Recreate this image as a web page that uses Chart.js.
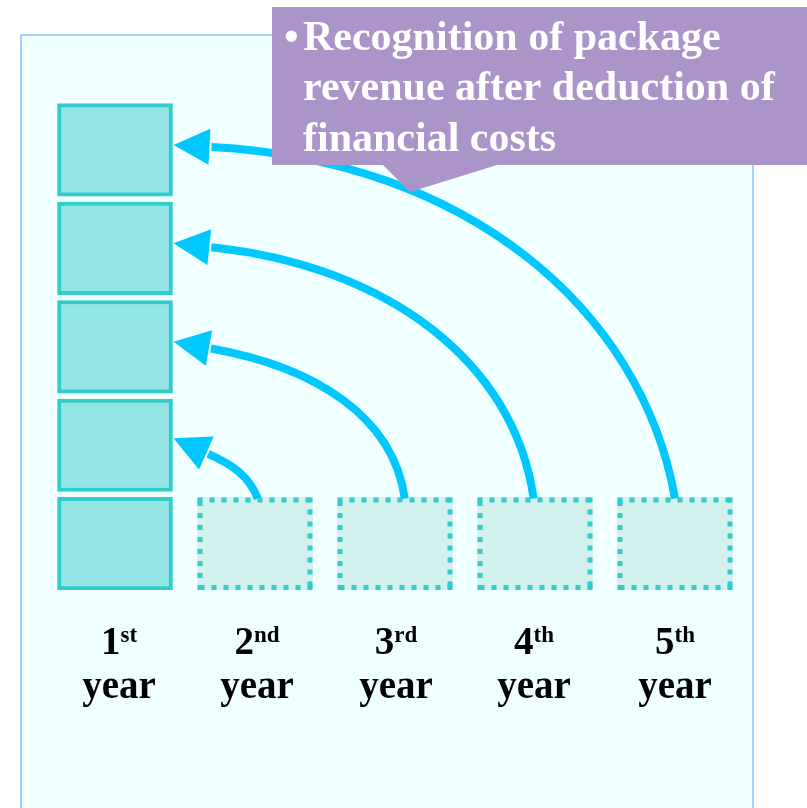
<!DOCTYPE html>
<html><head><meta charset="utf-8">
<script src="https://cdn.jsdelivr.net/npm/chart.js@4.4.1/dist/chart.umd.min.js"></script>
<style>html,body{margin:0;padding:0;background:#fff;}#wrap{width:807px;height:808px;}</style>
</head><body><div id="wrap"><canvas id="c" width="807" height="808"></canvas></div>
<script>
// ---- data ----
const yearNumbers = ['1', '2', '3', '4', '5'];
const yearSuffixes = ['st', 'nd', 'rd', 'th', 'th'];
const yearWord = 'year';
const recognizedYear = [0, 0, 0, 0, 0];      // all blocks recognised in 1st year
const recognizedLevels = [0, 1, 2, 3, 4];    // stacked block levels
const deferredYears = [1, 2, 3, 4];          // original years of later revenue
const deferredLevels = [0, 0, 0, 0];
const blockSize = 0.94;
const arrowStartX = [1.02, 2.07, 2.99, 4.0]; // where each arrow leaves its year block
const arrowTargetLevel = [1.54, 2.52, 3.52, 4.52];
const calloutLines = ['Recognition of package', 'revenue after deduction of', 'financial costs'];

const SERIF = '"Liberation Serif", "Times New Roman", serif';

const backgroundPlugin = {
  id: 'panel',
  beforeDraw(chart) {
    const ctx = chart.ctx;
    ctx.save();
    ctx.fillStyle = '#ffffff';
    ctx.fillRect(0, 0, chart.width, chart.height);
    ctx.fillStyle = '#f0ffff';
    ctx.fillRect(21, 35, 732, 780);
    ctx.strokeStyle = '#a6d0fb';
    ctx.lineWidth = 2;
    ctx.strokeRect(21, 35, 732, 790);
    ctx.restore();
  }
};

const dottedPlugin = {
  id: 'dotted',
  afterDatasetsDraw(chart) {
    const ctx = chart.ctx;
    const meta = chart.getDatasetMeta(1);
    ctx.save();
    ctx.strokeStyle = '#33cccc';
    ctx.lineWidth = 5;
    ctx.setLineDash([5, 7]);
    meta.data.forEach(el => {
      const p = el.getProps(['x', 'y', 'base', 'width'], true);
      const l = p.x - p.width / 2 + 2.5, r = p.x + p.width / 2 - 2.5;
      const t = p.y + 2.5, b = p.base - 2.5;
      const sides = [[l, t, r, t], [r, t, r, b], [r, b, l, b], [l, b, l, t]];
      sides.forEach(s => {
        ctx.beginPath();
        ctx.moveTo(s[0] - (s[2] > s[0] ? 2.5 : s[2] < s[0] ? -2.5 : 0), s[1] - (s[3] > s[1] ? 2.5 : s[3] < s[1] ? -2.5 : 0));
        ctx.lineTo(s[2], s[3]);
        ctx.stroke();
      });
    });
    ctx.restore();
  }
};

const arrowPlugin = {
  id: 'arrows',
  afterDatasetsDraw(chart) {
    const ctx = chart.ctx;
    const xs = chart.scales.x, ys = chart.scales.y;
    const bar0 = chart.getDatasetMeta(0).data[0].getProps(['x', 'width'], true);
    const tipX = bar0.x + bar0.width / 2 + 1;
    const startTilt = [22, 8, 8, 10];
    const endTilt = [24, 10, 6, 3];
    const headLen = 36, headHalf = 18;
    ctx.save();
    ctx.strokeStyle = '#00c8ff';
    ctx.fillStyle = '#00c8ff';
    ctx.lineWidth = 8;
    arrowStartX.forEach((sxv, k) => {
      const sx = xs.getPixelForValue(sxv);
      const sy = ys.getPixelForValue(deferredLevels[k] + blockSize) + 1;
      const ty = ys.getPixelForValue(arrowTargetLevel[k]);
      const ea = endTilt[k] * Math.PI / 180;
      const ux = Math.cos(ea), uy = Math.sin(ea); // direction from tip back along curve
      const bx = tipX + headLen * ux, by = ty + headLen * uy;
      const dx = sx - bx, dy = sy - by;
      const sa = startTilt[k] * Math.PI / 180;
      const c1 = 0.55 * dy, c2 = 0.55 * dx;
      ctx.beginPath();
      ctx.moveTo(sx, sy);
      ctx.bezierCurveTo(sx - c1 * Math.sin(sa), sy - c1 * Math.cos(sa), bx + c2 * ux, by + c2 * uy, bx + 2 * ux, by + 2 * uy);
      ctx.stroke();
      // head
      ctx.beginPath();
      ctx.moveTo(tipX, ty);
      ctx.lineTo(bx - headHalf * uy, by + headHalf * ux);
      ctx.lineTo(bx + headHalf * uy, by - headHalf * ux);
      ctx.closePath();
      ctx.fill();
    });
    ctx.restore();
  }
};

const labelPlugin = {
  id: 'yearLabels',
  afterDraw(chart) {
    const ctx = chart.ctx;
    const xs = chart.scales.x;
    const offs = [4, 2, 1, -1, 0];
    ctx.save();
    ctx.fillStyle = '#000000';
    ctx.textBaseline = 'alphabetic';
    yearNumbers.forEach((n, i) => {
      const cx = xs.getPixelForValue(i) + offs[i];
      ctx.font = 'bold 39px ' + SERIF;
      const wn = ctx.measureText(n).width;
      ctx.font = 'bold 23px ' + SERIF;
      const ws = ctx.measureText(yearSuffixes[i]).width;
      const x0 = cx - (wn + ws) / 2;
      ctx.font = 'bold 39px ' + SERIF;
      ctx.textAlign = 'left';
      ctx.fillText(n, x0, 654);
      ctx.font = 'bold 23px ' + SERIF;
      ctx.fillText(yearSuffixes[i], x0 + wn, 642);
      ctx.font = 'bold 39px ' + SERIF;
      ctx.textAlign = 'center';
      ctx.fillText(yearWord, cx, 698);
    });
    ctx.restore();
  }
};

const calloutPlugin = {
  id: 'callout',
  afterDraw(chart) {
    const ctx = chart.ctx;
    ctx.save();
    ctx.fillStyle = '#ab94c8';
    ctx.beginPath();
    ctx.moveTo(272, 7);
    ctx.lineTo(807, 7);
    ctx.lineTo(807, 165);
    ctx.lineTo(497, 165);
    ctx.lineTo(410, 192);
    ctx.lineTo(383, 165);
    ctx.lineTo(272, 165);
    ctx.closePath();
    ctx.fill();
    ctx.fillStyle = '#ffffff';
    ctx.font = 'bold 42px ' + SERIF;
    ctx.textAlign = 'left';
    ctx.textBaseline = 'alphabetic';
    ctx.fillText('\u2022', 284, 50);
    const baselines = [50, 100, 151];
    calloutLines.forEach((t, i) => ctx.fillText(t, 303, baselines[i]));
    ctx.restore();
  }
};

new Chart(document.getElementById('c'), {
  type: 'bar',
  data: {
    datasets: [
      {
        label: 'Recognised in 1st year',
        data: recognizedLevels.map((l, i) => ({ x: recognizedYear[i], y: [l, l + blockSize] })),
        backgroundColor: '#93e5e3',
        borderColor: '#33cccc',
        borderWidth: 4,
        borderSkipped: false,
        grouped: false,
        barThickness: 115
      },
      {
        label: 'Deferred revenue',
        data: deferredYears.map((x, i) => ({ x: x, y: [deferredLevels[i], deferredLevels[i] + blockSize] })),
        backgroundColor: '#d2f1ef',
        borderWidth: 0,
        grouped: false,
        barThickness: 115
      }
    ]
  },
  options: {
    responsive: false,
    animation: false,
    events: [],
    layout: { padding: { left: 45, right: 62, top: 9, bottom: 218 } },
    scales: {
      x: { type: 'linear', min: -0.5, max: 4.5, offset: false, display: false },
      y: { min: 0, max: 5.9, display: false }
    },
    plugins: { legend: { display: false }, tooltip: { enabled: false } }
  },
  plugins: [backgroundPlugin, dottedPlugin, arrowPlugin, labelPlugin, calloutPlugin]
});
</script>
</body></html>
